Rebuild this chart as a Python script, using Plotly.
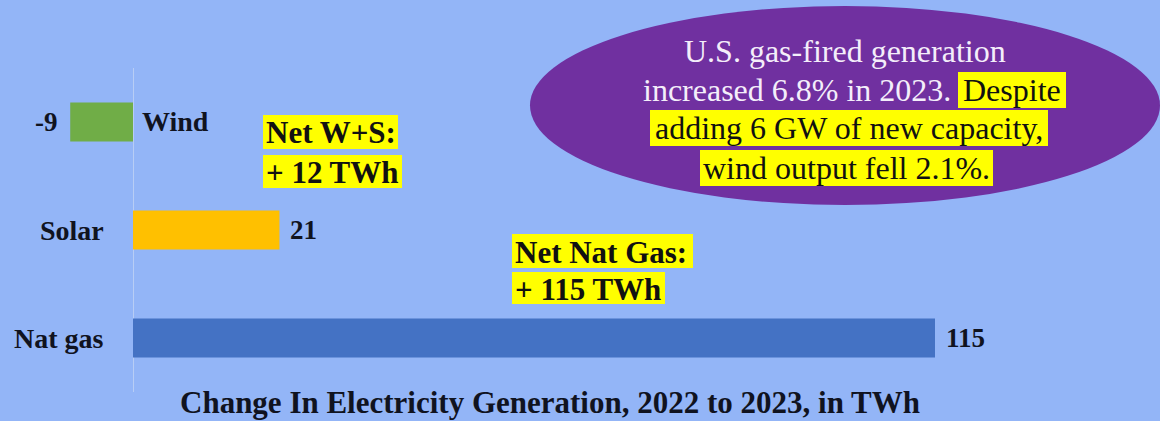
import plotly.graph_objects as go

W, H = 1160, 421

categories = ["Wind", "Solar", "Nat gas"]
values = [-9, 21, 115]
bar_colors = ["#70ad47", "#ffc000", "#4472c4"]

title_text = "Change In Electricity Generation, 2022 to 2023, in TWh"
note_ws = ["Net W+S:", "+ 12 TWh"]
note_gas = ["Net Nat Gas:", "+ 115 TWh"]
ellipse_lines = ["U.S. gas-fired generation", "increased 6.8% in 2023.", "Despite",
                 "adding 6 GW of new capacity,", "wind output fell 2.1%."]

BG = "#93b5f7"
TXT = "#10131f"
YEL = "#ffff00"
FONT = "Liberation Serif"


def px(x):
    return x / W


def py(y):
    return 1 - y / H


fig = go.Figure()
fig.add_trace(go.Bar(
    y=categories, x=values, orientation="h",
    marker=dict(color=bar_colors, line=dict(width=0)),
    width=0.36, hoverinfo="skip",
))

ann = []
shapes = []
LF = dict(family=FONT, size=28, color=TXT)
VF = dict(family=FONT, size=27, color=TXT)
for c, v in zip(categories, values):
    if v >= 0:
        ann.append(dict(x=0, y=c, xref="x", yref="y", text=f"<b>{c}</b>",
                        xanchor="right", xshift=-27, showarrow=False, font=LF))
        ann.append(dict(x=v, y=c, xref="x", yref="y", text=f"<b>{v}</b>",
                        xanchor="left", xshift=9, showarrow=False, font=VF))
    else:
        ann.append(dict(x=0, y=c, xref="x", yref="y", text=f"<b>{c}</b>",
                        xanchor="left", xshift=7, showarrow=False, font=LF))
        ann.append(dict(x=v, y=c, xref="x", yref="y", text=f"<b>{v}</b>",
                        xanchor="right", xshift=-10, showarrow=False, font=VF))

# title
ann.append(dict(x=px(550), y=py(421), xref="paper", yref="paper",
                text=f"<b>{title_text}</b>", showarrow=False,
                xanchor="center", yanchor="bottom", borderpad=0,
                font=dict(family=FONT, size=31, color=TXT)))


def highlight(x0, x1, y0, y1):
    shapes.append(dict(type="rect", xref="paper", yref="paper",
                       x0=px(x0), x1=px(x1), y0=py(y1), y1=py(y0),
                       fillcolor=YEL, line=dict(width=0), layer="above"))


# yellow notes
NF = dict(family=FONT, size=31, color="#111111")
note_boxes_ws = [(263, 398, 115, 149), (263, 402, 155, 188)]
note_boxes_gas = [(512, 693, 234, 268), (512, 665, 272, 304)]
for t, b in list(zip(note_ws, note_boxes_ws)) + list(zip(note_gas, note_boxes_gas)):
    highlight(*b)
    ann.append(dict(x=px(b[0] + 1), y=py((b[2] + b[3]) / 2 + 1), xref="paper", yref="paper",
                    text=f"<b>{t}</b>", showarrow=False, xanchor="left",
                    yanchor="middle", font=NF))

# ellipse
shapes.append(dict(type="circle", xref="paper", yref="paper",
                   x0=px(530), x1=px(1160), y0=py(205), y1=py(6),
                   fillcolor="#7030a0", line=dict(width=0), layer="below"))
EF = dict(family=FONT, size=32)
highlight(958, 1066, 72, 108)
highlight(650, 1048, 110, 146)
highlight(700, 993, 150, 186)
ann.append(dict(x=px(845), y=py(51), xref="paper", yref="paper",
                text=ellipse_lines[0], showarrow=False,
                xanchor="center", yanchor="middle", font=dict(**EF, color="#f4eefa")))
ann.append(dict(x=px(953), y=py(90), xref="paper", yref="paper",
                text=ellipse_lines[1], showarrow=False,
                xanchor="right", yanchor="middle", font=dict(**EF, color="#f4eefa")))
ann.append(dict(x=px(1012), y=py(90), xref="paper", yref="paper",
                text=ellipse_lines[2], showarrow=False,
                xanchor="center", yanchor="middle", font=dict(**EF, color="#111111")))
ann.append(dict(x=px(849), y=py(128), xref="paper", yref="paper",
                text=ellipse_lines[3], showarrow=False,
                xanchor="center", yanchor="middle", font=dict(**EF, color="#111111")))
ann.append(dict(x=px(846), y=py(168), xref="paper", yref="paper",
                text=ellipse_lines[4], showarrow=False,
                xanchor="center", yanchor="middle", font=dict(**EF, color="#111111")))

scale = (935 - 133) / 115.0
fig.update_layout(
    width=W, height=H, margin=dict(l=0, r=0, t=0, b=0),
    paper_bgcolor=BG, plot_bgcolor=BG, showlegend=False,
    annotations=ann, shapes=shapes,
    xaxis=dict(range=[-133 / scale, (W - 133) / scale], domain=[0, 1],
               showgrid=False, showticklabels=False, zeroline=True,
               zerolinecolor="#b8cdf5", zerolinewidth=1, fixedrange=True),
    yaxis=dict(domain=[py(392), py(68)], autorange="reversed",
               showgrid=False, showticklabels=False, zeroline=False, fixedrange=True),
)

fig.write_html("out.html")
